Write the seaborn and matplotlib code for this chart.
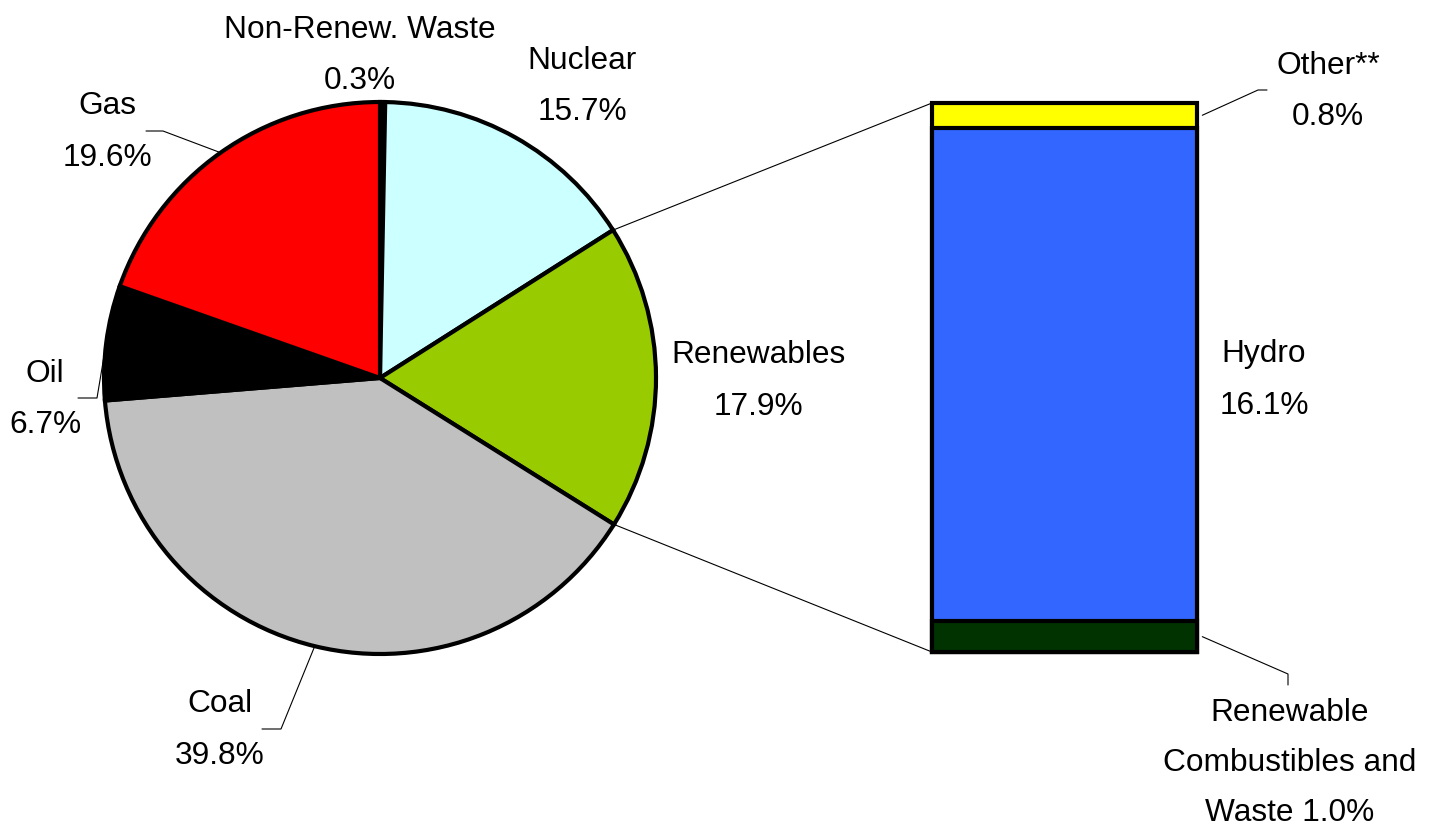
import numpy as np
import pandas as pd
import matplotlib
matplotlib.use("Agg")
import matplotlib.pyplot as plt
import seaborn as sns
from matplotlib.patches import ConnectionPatch
from matplotlib.lines import Line2D

# Electricity generation by source (share of total, %)
sources = ["Non-Renew. Waste", "Nuclear", "Renewables", "Coal", "Oil", "Gas"]
shares = [0.3, 15.7, 17.9, 39.8, 6.7, 19.6]
pie_colors = ["#000000", "#CCFFFF", "#99CC00", "#C0C0C0", "#000000", "#FF0000"]

# Breakdown of the renewables share, stacked bottom to top
renew_parts = ["Renewable Combustibles and Waste", "Hydro", "Other**"]
renew_shares = [1.0, 16.1, 0.8]
bar_colors = ["#003300", "#3366FF", "#FFFF00"]

sns.set_theme(style="white")
plt.rcParams["font.family"] = ["Liberation Sans", "DejaVu Sans"]

W, H = 1429, 831
fig = plt.figure(figsize=(W / 100, H / 100), dpi=100)
fig.patch.set_facecolor("white")


def fig_xy(x, y):
    """Pixel position (from top-left) to figure fraction."""
    return x / W, 1 - y / H


FS = 22.8
LS = 1.95

# ---- pie ----
cx, cy, r = 380, 378, 276
ax_pie = fig.add_axes([(cx - r) / W, 1 - (cy + r) / H, 2 * r / W, 2 * r / H])
wedges, _ = ax_pie.pie(shares, colors=pie_colors, startangle=90, counterclock=False,
                       wedgeprops=dict(edgecolor="black", linewidth=3))
ax_pie.set_xlim(-1, 1)
ax_pie.set_ylim(-1, 1)
ax_pie.set_aspect("equal")
ax_pie.axis("off")
for w in wedges:
    w.set_clip_on(False)

# ---- stacked bar for the renewables breakdown ----
ax_bar = fig.add_axes([932 / W, 1 - 652 / H, 265 / W, 549 / H])
total = float(np.sum(renew_shares))
cum = np.cumsum(renew_shares)
bar_df = pd.DataFrame({"part": renew_parts, "top": cum, "color": bar_colors})
# draw tallest first so lower segments sit on top
for _, row in bar_df.iloc[::-1].iterrows():
    sns.barplot(x=["Renewables"], y=[row["top"]], color=row["color"], saturation=1,
                width=1.0, edgecolor="black", linewidth=3, errorbar=None, ax=ax_bar)
ax_bar.set_xlim(-0.5, 0.5)
ax_bar.set_ylim(0, total)
ax_bar.axis("off")
for p in ax_bar.patches:
    p.set_clip_on(False)

# ---- connectors from the renewables wedge to the bar ----
ren = wedges[sources.index("Renewables")]
for ang, ybar in [(ren.theta2, total), (ren.theta1, 0.0)]:
    a = np.deg2rad(ang)
    con = ConnectionPatch(xyA=(np.cos(a), np.sin(a)), coordsA=ax_pie.transData,
                          xyB=(-0.5, ybar), coordsB=ax_bar.transData,
                          color="black", linewidth=0.8)
    fig.add_artist(con)


def to_fig(ax, x, y):
    return fig.transFigure.inverted().transform(ax.transData.transform((x, y)))


def leader(points):
    xs, ys = zip(*points)
    fig.add_artist(Line2D(xs, ys, transform=fig.transFigure, color="black",
                          linewidth=0.8))


def wedge_edge(name):
    w = wedges[sources.index(name)]
    a = np.deg2rad((w.theta1 + w.theta2) / 2)
    return to_fig(ax_pie, np.cos(a), np.sin(a))


# ---- pie labels ----
pie_label_pos = {
    "Non-Renew. Waste": (360, 55.5),
    "Nuclear": (582, 86.5),
    "Renewables": (758, 381),
    "Coal": (220, 730),
    "Oil": (45, 399.5),
    "Gas": (107, 132),
}
for name, val in zip(sources, shares):
    x, y = pie_label_pos[name]
    fig.text(*fig_xy(x, y), f"{name}\n{val:.1f}%", ha="center", va="center",
             fontsize=FS, linespacing=LS, color="black")

leader([fig_xy(146, 131), fig_xy(163, 131), wedge_edge("Gas")])
leader([fig_xy(78, 398), fig_xy(97, 398), wedge_edge("Oil")])
leader([fig_xy(262, 729), fig_xy(281, 729), wedge_edge("Coal")])

# ---- bar labels ----
bar_label_pos = {
    "Other**": (1328, 91.5),
    "Hydro": (1264, 380),
    "Renewable Combustibles and Waste": (1290, 763),
}
for name, val in zip(renew_parts, renew_shares):
    x, y = bar_label_pos[name]
    if name.startswith("Renewable "):
        txt = name.replace("Renewable ", "Renewable\n").replace("and ", "and\n") + f" {val:.1f}%"
        ls = 1.85
    else:
        txt = f"{name}\n{val:.1f}%"
        ls = LS
    fig.text(*fig_xy(x, y), txt, ha="center", va="center",
             fontsize=FS, linespacing=ls, color="black")

bottoms = cum - np.array(renew_shares)
mid_other = bottoms[2] + renew_shares[2] / 2
mid_comb = bottoms[0] + renew_shares[0] / 2
leader([to_fig(ax_bar, 0.52, mid_other), fig_xy(1258, 90), fig_xy(1267, 90)])
leader([to_fig(ax_bar, 0.52, mid_comb), fig_xy(1288, 674), fig_xy(1288, 685)])

fig.savefig("out.png", dpi=100, facecolor="white")
